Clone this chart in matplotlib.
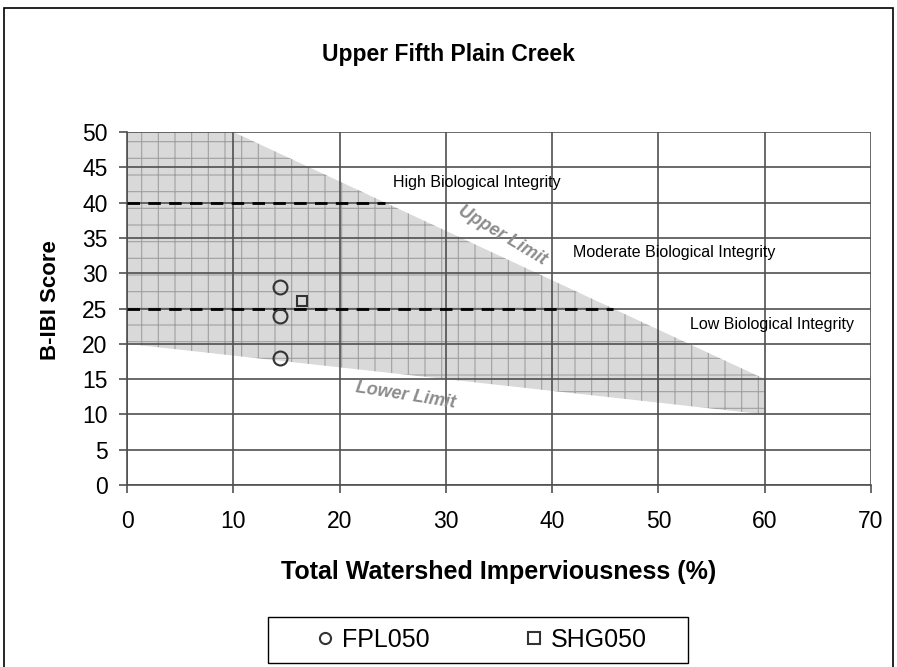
import matplotlib.pyplot as plt
from matplotlib.patches import Polygon, Rectangle

plt.rcParams['font.family'] = ['Liberation Sans', 'DejaVu Sans']
plt.rcParams['hatch.linewidth'] = 0.8

# envelope of expected B-IBI scores (upper / lower limit)
upper_x = [0, 10, 60]
upper_y = [50, 50, 15]
lower_x = [60, 0]
lower_y = [10, 20]

# integrity thresholds
high_thresh = 40
low_thresh = 25

# sample sites
fpl_x = [14.4, 14.4, 14.4]
fpl_y = [28, 24, 18]
shg_x = [16.5]
shg_y = [26]

W, H = 897, 667
fig = plt.figure(figsize=(W / 100, H / 100), dpi=100)
ax = fig.add_axes([127 / W, 1 - 485 / H, 744 / W, 353 / H])

poly = Polygon(list(zip(upper_x + lower_x, upper_y + lower_y)), closed=True,
               facecolor='#d9d9d9', edgecolor='#a0a0a0', lw=0, hatch='+', zorder=1)
ax.add_patch(poly)

# thresholds stop where they meet the upper limit
def upper_at(y):
    return upper_x[1] + (upper_y[1] - y) * (upper_x[2] - upper_x[1]) / (upper_y[1] - upper_y[2])

ax.plot([0, upper_at(high_thresh)], [high_thresh, high_thresh], ls=(0, (4.5, 3)),
        color='black', lw=2, zorder=3)
ax.plot([0, upper_at(low_thresh)], [low_thresh, low_thresh], ls=(0, (4.5, 3)),
        color='black', lw=2, zorder=3)

ax.plot(fpl_x, fpl_y, 'o', ms=10, mfc='none', mec='#333333', mew=1.5,
        label='FPL050', zorder=4)
ax.plot(shg_x, shg_y, 's', ms=7.5, mfc='none', mec='#333333', mew=1.5,
        label='SHG050', zorder=4)

ax.text(32.9, 42.9, 'High Biological Integrity', fontsize=11.5, ha='center', va='center')
ax.text(42.0, 32.9, 'Moderate Biological Integrity', fontsize=11.5, ha='left', va='center')
ax.text(53.0, 22.8, 'Low Biological Integrity', fontsize=11.5, ha='left', va='center')
ax.text(35.3, 35.4, 'Upper Limit', fontsize=13, fontweight='bold', style='italic',
        color='#8c8c8c', rotation=-31, ha='center', va='center')
ax.text(26.2, 12.7, 'Lower Limit', fontsize=13, fontweight='bold', style='italic',
        color='#8c8c8c', rotation=-9, ha='center', va='center')

ax.set_xlim(0, 70)
ax.set_ylim(0, 50)
ax.set_xticks(range(0, 71, 10))
ax.set_yticks(range(0, 51, 5))
ax.grid(True, color='#505050', lw=1.2, zorder=2)
ax.set_axisbelow(False)
for s in ['top', 'right']:
    ax.spines[s].set_visible(False)
for s in ['left', 'bottom']:
    ax.spines[s].set_color('#505050')
    ax.spines[s].set_linewidth(1.2)
ax.tick_params(labelsize=16.5, color='#505050', width=1.2, length=6)
ax.tick_params(axis='x', pad=12)
ax.tick_params(axis='y', pad=8)

ax.set_xlabel('Total Watershed Imperviousness (%)', fontsize=18, fontweight='bold', va='center')
ax.xaxis.set_label_coords(0.5, -(572 - 485) / 353, transform=ax.transAxes)
ax.set_ylabel('B-IBI Score', fontsize=16, fontweight='bold', va='center')
ax.yaxis.set_label_coords(-(127 - 50) / 744, (485 - 300) / 353)
fig.text(0.5, 1 - 55 / H, 'Upper Fifth Plain Creek', fontsize=16.5, fontweight='bold',
         ha='center', va='center')

# legend entries without frame, box drawn separately
leg = fig.legend(loc='center left', bbox_to_anchor=(312.5 / W, 1 - 640 / H), ncol=2,
                 fontsize=18, frameon=False, columnspacing=3.66,
                 handletextpad=0.18, handlelength=1.0, borderpad=0, borderaxespad=0)
for h in leg.legend_handles:
    h.set_markersize(8)
fig.patches.append(Rectangle((268 / W, 1 - 663 / H), 420 / W, 46 / H,
                             transform=fig.transFigure, fill=False,
                             edgecolor='black', lw=1.0))

# outer chart border
fig.patches.append(Rectangle((4 / W, -0.01), 889 / W, 1 - 8 / H + 0.01,
                             transform=fig.transFigure, fill=False,
                             edgecolor='black', lw=1.2))

fig.savefig('out.png', dpi=100)
